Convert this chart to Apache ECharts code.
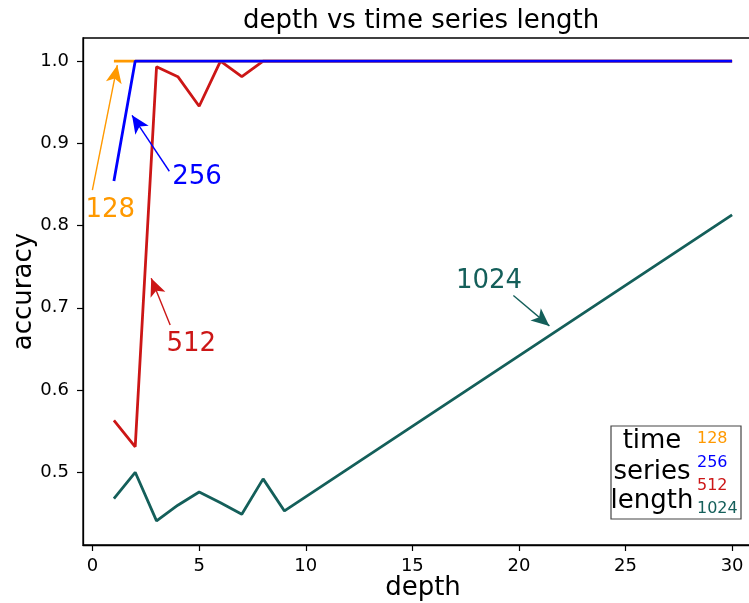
<!DOCTYPE html>
<html>
<head>
<meta charset="utf-8">
<script src="https://cdn.jsdelivr.net/npm/echarts@6/dist/echarts.min.js"></script>
<style>
html,body{margin:0;padding:0;background:#fff;overflow:hidden;}
#chart{width:749px;height:603px;}
</style>
</head>
<body>
<div id="chart"></div>
<script>
// ---- data ----
const depths = [1, 2, 3, 4, 5, 6, 7, 8, 9, 30];
const acc128 = [1.0, 1.0, 1.0, 1.0, 1.0, 1.0, 1.0, 1.0, 1.0, 1.0];
const acc256 = [0.854, 1.0, 1.0, 1.0, 1.0, 1.0, 1.0, 1.0, 1.0, 1.0];
const acc512 = [0.563, 0.531, 0.993, 0.981, 0.945, 1.0, 0.981, 1.0, 1.0, 1.0];
const acc1024 = [0.468, 0.5, 0.441, 0.460, 0.476, 0.463, 0.449, 0.492, 0.453, 0.813];
const xTicks = [0, 5, 10, 15, 20, 25, 30];
const yTicks = [0.5, 0.6, 0.7, 0.8, 0.9, 1.0];
const seriesNames = ['128', '256', '512', '1024'];
// annotation: [text x, text y, arrow start x, arrow start y, arrow tip x, arrow tip y]
const ann128 = [0.83, 0.819, -0.01, 0.843, 1.16, 0.995];
const ann256 = [4.9, 0.859, 3.6, 0.866, 1.85, 0.934];
const ann512 = [4.63, 0.656, 3.64, 0.679, 2.75, 0.736];
const ann1024 = [18.6, 0.732, 19.74, 0.715, 21.43, 0.678];

const colors = {'128': '#ff9900', '256': '#0000ff', '512': '#cc1616', '1024': '#145f5a'};
const FONT = 'DejaVu Sans';

function pairs(ys) { return depths.map((d, i) => [d, ys[i]]); }

function mkSeries(name, ys, ann, z) {
  const c = colors[name];
  return {
    name: name, type: 'line', data: pairs(ys), showSymbol: false, symbol: 'none',
    z: z, lineStyle: {color: c, width: 2.8}, itemStyle: {color: c},
    animation: false,
    markPoint: {
      symbol: 'circle', symbolSize: 0, silent: true,
      data: [{coord: [ann[0], ann[1]], value: name}],
      label: {show: true, position: 'inside', formatter: name, color: c, fontSize: 26, fontFamily: FONT}
    },
    markLine: {
      silent: true, symbol: ['none', 'arrow'], symbolSize: [12, 18],
      label: {show: false},
      lineStyle: {color: c, width: 1.4, type: 'solid'},
      data: [[{coord: [ann[2], ann[3]]}, {coord: [ann[4], ann[5]]}]]
    }
  };
}

const chart = echarts.init(document.getElementById('chart'), null, {renderer: 'canvas'});
chart.setOption({
  animation: false,
  backgroundColor: '#fff',
  title: {
    text: 'depth vs time series length', left: 238, top: 3,
    textStyle: {fontFamily: FONT, fontSize: 26, fontWeight: 'normal', color: '#000'}
  },
  grid: {left: 83, top: 38, width: 680, height: 507, show: true, borderColor: '#000', borderWidth: 1.3,
    containLabel: false, outerBoundsMode: 'none'},
  xAxis: {
    type: 'value', min: -0.45, max: 31.45,
    name: 'depth', nameLocation: 'middle', nameGap: 30, nameMoveOverlap: false,
    nameTextStyle: {fontFamily: FONT, fontSize: 26, color: '#000'},
    axisLine: {show: true, onZero: false, lineStyle: {color: '#000', width: 1.3}},
    axisTick: {show: true, length: 6, customValues: xTicks, lineStyle: {color: '#000', width: 1.2}},
    axisLabel: {customValues: xTicks, margin: 12, fontFamily: FONT, fontSize: 18, color: '#000'},
    splitLine: {show: false}
  },
  yAxis: {
    type: 'value', min: 0.4116, max: 1.028,
    name: 'accuracy', nameLocation: 'middle', nameGap: 46, nameRotate: 90, nameMoveOverlap: false,
    nameTextStyle: {fontFamily: FONT, fontSize: 26, color: '#000'},
    axisLine: {show: true, onZero: false, lineStyle: {color: '#000', width: 1.3}},
    axisTick: {show: true, length: 6, customValues: yTicks, lineStyle: {color: '#000', width: 1.2}},
    axisLabel: {customValues: yTicks, margin: 14, fontFamily: FONT, fontSize: 18, color: '#000',
      formatter: v => v.toFixed(1)},
    splitLine: {show: false}
  },
  series: [
    mkSeries('1024', acc1024, ann1024, 2),
    mkSeries('512', acc512, ann512, 3),
    mkSeries('128', acc128, ann128, 4),
    mkSeries('256', acc256, ann256, 5)
  ],
  graphic: [
    {type: 'rect', shape: {x: 611, y: 426, width: 130, height: 93}, z: 50,
      style: {fill: '#fff', stroke: '#444', lineWidth: 1.2}},
    {type: 'text', x: 652, y: 441, z: 51, style: {text: 'time', fontFamily: FONT, fontSize: 26, fill: '#000', align: 'center', verticalAlign: 'middle'}},
    {type: 'text', x: 652, y: 472.5, z: 51, style: {text: 'series', fontFamily: FONT, fontSize: 26, fill: '#000', align: 'center', verticalAlign: 'middle'}},
    {type: 'text', x: 652, y: 501.5, z: 51, style: {text: 'length', fontFamily: FONT, fontSize: 26, fill: '#000', align: 'center', verticalAlign: 'middle'}},
    {type: 'text', x: 697, y: 438.5, z: 51, style: {text: seriesNames[0], fontFamily: FONT, fontSize: 16, fill: colors['128'], align: 'left', verticalAlign: 'middle'}},
    {type: 'text', x: 697, y: 462.5, z: 51, style: {text: seriesNames[1], fontFamily: FONT, fontSize: 16, fill: colors['256'], align: 'left', verticalAlign: 'middle'}},
    {type: 'text', x: 697, y: 485.5, z: 51, style: {text: seriesNames[2], fontFamily: FONT, fontSize: 16, fill: colors['512'], align: 'left', verticalAlign: 'middle'}},
    {type: 'text', x: 697, y: 508.5, z: 51, style: {text: seriesNames[3], fontFamily: FONT, fontSize: 16, fill: colors['1024'], align: 'left', verticalAlign: 'middle'}}
  ]
});
</script>
</body>
</html>
